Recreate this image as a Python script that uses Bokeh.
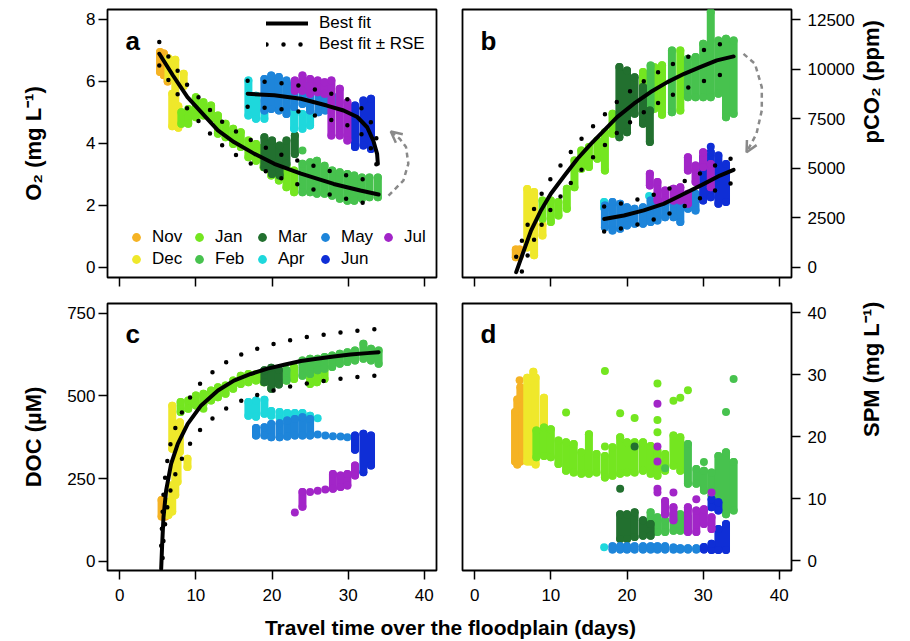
import math
from bokeh.plotting import figure
from bokeh.layouts import column, row
from bokeh.models import FixedTicker, Label, Legend, LegendItem, Arrow, OpenHead, Range1d
from bokeh.embed import file_html
from bokeh.resources import INLINE

FONT = "Liberation Sans"

MONTHS = ["Nov", "Dec", "Jan", "Feb", "Mar", "Apr", "May", "Jun", "Jul"]
COLORS = ["#F5B324", "#EFE82B", "#74E620", "#47C24E", "#22702F",
          "#1ED8DC", "#1E85DA", "#0F2ED6", "#A225C8"]

X_TICKS = [0, 10, 20, 30, 40]
O2_TICKS = [0, 2, 4, 6, 8]
CO2_TICKS = [0, 2500, 5000, 7500, 10000, 12500]
DOC_TICKS = [0, 250, 500, 750]
SPM_TICKS = [0, 10, 20, 30, 40]

X_LABEL = "Travel time over the floodplain (days)"
O2_LABEL = "O\u2082 (mg L\u207b\u00b9)"
CO2_LABEL = "pCO\u2082 (ppm)"
DOC_LABEL = "DOC (\u00b5M)"
SPM_LABEL = "SPM (mg L\u207b\u00b9)"

# ---- panel a: O2 (mg/L); columns are (travel time, low, high) ----
O2_NOV = [(5.3, 6.30, 6.95), (5.8, 6.20, 6.90), (6.3, 6.00, 6.70)]
O2_DEC = [(6.4, 6.10, 6.75), (6.9, 4.55, 5.60), (7.3, 5.30, 6.70), (7.7, 4.50, 5.20), (8.4, 5.85, 6.25)]
O2_JAN = [(8.1, 4.63, 5.00), (9.0, 4.63, 5.11), (10.0, 4.84, 5.49), (11.0, 4.90, 5.33),
          (12.0, 4.79, 5.22), (12.9, 4.31, 4.90), (13.9, 4.20, 4.63), (14.9, 3.98, 4.47),
          (15.9, 3.88, 4.36), (16.9, 3.55, 4.09), (17.9, 3.44, 3.98), (18.9, 3.23, 3.88),
          (19.9, 2.96, 3.66), (20.9, 2.80, 3.44), (21.9, 2.58, 3.28), (22.9, 2.42, 3.12)]
O2_FEB = [(24.0, 2.42, 3.34), (25.0, 2.42, 3.39), (25.9, 2.37, 3.44), (26.9, 2.37, 3.28),
          (27.9, 2.31, 3.12), (28.9, 2.21, 3.07), (29.9, 2.15, 3.01), (30.8, 2.15, 2.96),
          (31.8, 2.21, 2.90), (32.8, 2.26, 2.90), (33.9, 2.26, 2.90)]
O2_FEB_PTS = [(24.0, 3.77)]
O2_MAR = [(19.0, 3.23, 4.20), (20.0, 3.01, 4.09), (21.0, 2.96, 3.93), (21.9, 3.34, 4.09), (23.0, 3.66, 4.25)]
O2_APR = [(16.9, 4.90, 6.03), (17.9, 4.79, 5.54), (19.0, 4.79, 5.38), (22.9, 4.47, 5.06),
          (24.0, 4.47, 4.95), (25.0, 4.58, 5.17)]
O2_MAY = [(19.0, 5.06, 6.08), (19.9, 5.11, 6.19), (20.9, 5.06, 6.14), (21.9, 4.95, 6.03),
          (22.9, 5.17, 5.92), (24.0, 5.27, 5.92), (25.0, 5.06, 5.92), (26.1, 5.00, 5.87),
          (27.0, 5.06, 5.70), (28.8, 5.27, 5.54)]
O2_JUN = [(30.9, 3.88, 5.22), (32.0, 3.93, 5.38), (33.0, 3.82, 5.44)]
O2_JUL = [(23.0, 5.70, 6.03), (24.0, 5.70, 6.19), (25.0, 5.60, 6.08), (26.0, 5.65, 6.03),
          (26.9, 5.60, 5.97), (27.8, 4.25, 6.03), (28.9, 4.25, 5.76), (29.9, 4.09, 5.33)]
O2_FIT1_X = [5.2, 7.0, 8.9, 10.7, 12.9, 15.0, 17.7, 20.3, 23.8, 28.1, 31.6, 34.0]
O2_FIT1_Y = [6.89, 6.19, 5.49, 5.01, 4.42, 4.04, 3.66, 3.34, 3.02, 2.69, 2.48, 2.35]
O2_RSE1 = 0.38
O2_FIT2_X = [16.8, 20.3, 23.8, 27.2, 29.4, 31.2, 32.5, 33.3, 33.8, 33.9]
O2_FIT2_Y = [5.60, 5.55, 5.44, 5.22, 5.06, 4.85, 4.52, 4.09, 3.66, 3.34]
O2_RSE2 = 0.42
O2_ARC_X = [35.3, 37.25, 37.9, 37.6, 36.8, 35.6]
O2_ARC_Y = [2.31, 2.80, 3.34, 3.88, 4.14, 4.38]

# ---- panel b: pCO2 (ppm) ----
CO2_NOV = [(5.4, 500, 900), (5.9, 550, 900)]
CO2_DEC = [(6.9, 1000, 3950), (7.8, 600, 3800), (8.9, 1600, 2150)]
CO2_JAN = [(8.9, 2450, 3370), (10.0, 2280, 3370), (11.0, 2610, 3290), (12.1, 2950, 3960),
           (13.1, 4040, 5390), (14.0, 4970, 5900), (15.0, 5060, 6070), (16.1, 5480, 6400),
           (17.1, 4890, 6820), (18.1, 6740, 7750), (22.1, 8430, 9860), (23.6, 8000, 10100),
           (24.6, 7700, 10200), (27.0, 7920, 10950)]
CO2_FEB = [(23.1, 7920, 10190), (25.9, 7830, 10950), (28.0, 8590, 10530), (29.0, 8590, 10620),
           (30.0, 8590, 11290), (31.0, 8590, 12890), (32.0, 8760, 11460), (33.0, 7580, 11540),
           (34.0, 7750, 11460)]
CO2_MAR = [(19.0, 6570, 10110), (20.0, 6820, 9940), (21.0, 7750, 9600), (22.1, 7250, 9100), (23.0, 6320, 7920)]
CO2_APR = [(17.0, 3000, 3290), (18.0, 2950, 3120)]
CO2_APR_PTS = [(22.9, 3600)]
CO2_MAY = [(17.1, 2020, 3120), (18.1, 1850, 3290), (19.1, 1940, 3200), (20.0, 2110, 3030),
           (21.0, 2190, 2950), (22.1, 2190, 3030), (23.1, 2280, 3370), (24.0, 2360, 3290),
           (25.0, 2530, 3370), (26.1, 2530, 3200), (27.0, 2280, 3370), (28.0, 2950, 3540),
           (29.0, 2870, 3710)]
CO2_JUN = [(30.0, 3370, 5560), (31.0, 3540, 5810), (32.0, 3200, 5640), (33.0, 3290, 5220)]
CO2_JUN_PTS = [(31.0, 6080)]
CO2_JUL = [(23.0, 4130, 4720), (24.0, 3370, 4300), (25.0, 3370, 3880), (26.1, 3370, 3960),
           (27.0, 3370, 4040), (28.0, 4890, 5560), (28.0, 3200, 3710), (29.0, 4300, 5140),
           (30.0, 5060, 5810), (31.0, 4040, 5220)]
CO2_FIT1_X = [5.45, 6.3, 7.4, 8.7, 10.0, 11.8, 13.5, 15.3, 17.0, 18.7, 20.9, 23.1, 25.3, 27.5, 29.6, 31.8, 34.0]
CO2_FIT1_Y = [-250, 670, 1850, 2870, 3710, 4630, 5480, 6240, 6910, 7580, 8260, 8850, 9350, 9770, 10110, 10450, 10650]
CO2_RSE1 = 780
CO2_FIT2_X = [17.0, 19.6, 22.2, 24.8, 27.5, 30.1, 32.2, 34.0]
CO2_FIT2_Y = [2440, 2610, 2870, 3200, 3710, 4210, 4630, 4920]
CO2_RSE2 = 630
CO2_ARC_X = [35.3, 36.8, 37.7, 37.7, 37.0, 35.7]
CO2_ARC_Y = [10780, 10280, 9100, 7920, 6740, 5810]

# ---- panel c: DOC (uM) ----
DOC_NOV = [(5.5, 135, 185), (6.0, 135, 175)]
DOC_DEC = [(6.4, 140, 180), (6.9, 150, 230), (7.3, 200, 290), (7.6, 240, 340), (7.9, 330, 420),
           (6.9, 340, 470), (8.9, 285, 310)]
DOC_JAN = [(8.0, 451, 481), (9.0, 461, 486), (10.0, 471, 501), (11.0, 476, 506), (12.0, 486, 516),
           (12.9, 496, 526), (13.9, 506, 531), (14.9, 521, 546), (15.9, 536, 561), (16.9, 541, 566),
           (17.9, 546, 566), (18.9, 541, 571), (21.9, 546, 577), (22.9, 551, 586), (25.0, 536, 597),
           (25.9, 541, 602), (26.9, 551, 602)]
DOC_JAN_PTS = [(11.0, 461)]
DOC_FEB = [(21.9, 546, 577), (24.0, 561, 607), (25.0, 566, 612), (26.0, 577, 612), (26.9, 582, 617),
           (27.9, 587, 622), (28.9, 597, 627), (29.9, 602, 632), (30.9, 607, 637), (32.0, 612, 657),
           (33.0, 607, 642), (34.0, 597, 637)]
DOC_MAR = [(19.0, 541, 577), (19.9, 521, 585), (20.9, 534, 579)]
DOC_APR = [(16.9, 440, 481), (17.9, 437, 486), (19.0, 446, 488), (19.9, 440, 454), (21.0, 435, 451),
           (22.0, 430, 448), (23.0, 430, 448), (24.0, 430, 448), (25.0, 423, 440)]
DOC_APR_PTS = [(26.0, 432)]
DOC_MAY = [(17.9, 380, 403), (19.0, 380, 405), (19.9, 375, 415), (21.0, 375, 417), (22.0, 377, 425),
           (23.0, 380, 430), (24.0, 380, 435), (25.0, 380, 430)]
DOC_MAY_PTS = [(26.0, 383), (27.0, 380), (28.0, 378), (29.0, 377), (29.9, 375)]
DOC_JUN = [(30.9, 337, 380), (32.0, 269, 385), (33.0, 289, 380)]
DOC_JUL = [(24.0, 165, 209), (28.0, 219, 264), (29.0, 224, 259), (29.9, 229, 264), (30.9, 259, 289)]
DOC_JUL_PTS = [(23.0, 147), (25.0, 209), (26.0, 213), (27.0, 217)]
DOC_FIT_X = [5.45, 5.58, 5.75, 6.1, 6.75, 7.63, 8.93, 10.7, 12.9, 15.0, 17.2, 19.4, 21.6, 23.8,
             25.9, 28.1, 30.3, 32.5, 34.0]
DOC_FIT_Y = [-23, 52, 133, 214, 294, 355, 415, 471, 516, 546, 566, 582, 594, 605, 612, 619, 625, 629, 632]
DOC_RSE = 70

# ---- panel d: SPM (mg/L) ----
SPM_NOV = [(5.3, 16.0, 24.0), (5.6, 15.5, 26.0), (6.0, 16.0, 28.0), (6.3, 17.0, 25.0)]
SPM_NOV_PTS = [(5.9, 29.1)]
SPM_DEC = [(6.9, 16.0, 29.5), (7.3, 16.0, 29.0), (7.7, 16.0, 30.5), (8.0, 15.5, 29.5), (9.1, 21.5, 26.3)]
SPM_JAN = [(8.1, 16.7, 21.0), (9.1, 16.9, 21.5), (10.0, 16.7, 21.2), (11.0, 15.6, 19.4), (12.0, 14.5, 19.1),
           (13.0, 14.2, 18.8), (14.0, 14.0, 17.5), (15.0, 14.0, 20.4), (16.0, 14.2, 17.2), (17.1, 13.4, 16.9),
           (18.1, 13.7, 18.3), (19.1, 14.0, 19.9), (20.0, 14.2, 19.1), (21.0, 14.2, 19.1), (22.1, 14.5, 19.1),
           (23.1, 14.0, 18.5), (24.0, 13.7, 17.7), (25.0, 14.5, 17.2), (26.1, 15.3, 20.2), (27.0, 14.5, 19.9)]
SPM_JAN_PTS = [(12.0, 23.9), (17.1, 30.6), (17.1, 18.4), (19.1, 23.8), (21.0, 23.0), (24.0, 28.6),
               (24.0, 22.7), (24.0, 20.7), (26.1, 25.8), (27.0, 26.3), (28.0, 27.5)]
SPM_FEB = [(28.0, 12.4, 18.8), (29.1, 12.4, 14.8), (30.1, 11.3, 14.5), (31.1, 10.5, 14.2), (32.0, 8.6, 16.9),
           (33.0, 7.5, 17.5), (34.0, 8.1, 15.9), (23.1, 4.3, 7.8), (24.0, 4.6, 7.0), (25.0, 4.6, 6.5),
           (26.1, 4.8, 7.5), (27.0, 4.8, 7.5), (28.0, 4.8, 7.0)]
SPM_FEB_PTS = [(30.1, 15.9), (33.0, 24.0), (34.0, 29.3), (25.0, 14.9)]
SPM_MAR = [(19.1, 3.5, 7.5), (20.0, 3.5, 7.5), (21.0, 3.8, 7.8), (22.1, 4.0, 6.5), (23.1, 4.0, 5.9)]
SPM_MAR_PTS = [(19.1, 11.6), (21.0, 18.4)]
SPM_APR_PTS = [(17.0, 2.15)]
SPM_MAY = [(18.1, 1.8, 2.3), (19.1, 1.8, 2.3), (20.0, 1.8, 2.3), (21.0, 1.8, 2.3), (22.1, 1.8, 2.3),
           (23.1, 1.8, 2.3), (24.0, 1.8, 2.3), (25.0, 1.8, 2.3), (26.1, 1.8, 2.1), (27.0, 1.8, 2.0),
           (28.0, 1.8, 2.0), (29.1, 1.8, 2.0)]
SPM_JUN = [(30.1, 1.8, 2.2), (31.1, 1.7, 2.7), (31.1, 8.6, 9.9), (32.0, 1.7, 5.1), (32.0, 8.1, 9.4),
           (33.0, 1.7, 5.9)]
SPM_JUL = [(25.0, 7.5, 9.6), (26.1, 6.5, 8.6), (28.0, 4.6, 8.6), (29.1, 4.6, 8.1), (30.1, 5.9, 8.3),
           (31.1, 5.1, 7.0)]
SPM_JUL_PTS = [(24.0, 25.3), (24.0, 18.4), (24.0, 16.0), (24.0, 11.6), (24.0, 11.0), (26.1, 11.0),
               (29.1, 9.9), (31.1, 11.0)]

O2_COLS = [O2_NOV, O2_DEC, O2_JAN, O2_FEB, O2_MAR, O2_APR, O2_MAY, O2_JUN, O2_JUL]
O2_PTS = {"Feb": O2_FEB_PTS}
CO2_COLS = [CO2_NOV, CO2_DEC, CO2_JAN, CO2_FEB, CO2_MAR, CO2_APR, CO2_MAY, CO2_JUN, CO2_JUL]
CO2_PTS = {"Apr": CO2_APR_PTS, "Jun": CO2_JUN_PTS}
DOC_COLS = [DOC_NOV, DOC_DEC, DOC_JAN, DOC_FEB, DOC_MAR, DOC_APR, DOC_MAY, DOC_JUN, DOC_JUL]
DOC_PTS = {"Jan": DOC_JAN_PTS, "Apr": DOC_APR_PTS, "May": DOC_MAY_PTS, "Jul": DOC_JUL_PTS}
SPM_COLS = [SPM_NOV, SPM_DEC, SPM_JAN, SPM_FEB, SPM_MAR, [], SPM_MAY, SPM_JUN, SPM_JUL]
SPM_PTS = {"Nov": SPM_NOV_PTS, "Jan": SPM_JAN_PTS, "Feb": SPM_FEB_PTS, "Mar": SPM_MAR_PTS,
           "Apr": SPM_APR_PTS, "Jul": SPM_JUL_PTS}

MARK = 8
GRAY = "#8a8a8a"


def make_panel(width, height, borders, y_range, y_ticks, y_side, x_labels, y_label, y_label_standoff,
               y_label_std):
    left, right, top, bottom = borders
    p = figure(width=width, height=height, x_range=Range1d(-1.6, 41.6), y_range=Range1d(*y_range),
               output_backend="svg", toolbar_location=None, y_axis_location=y_side,
               min_border_left=left, min_border_right=right, min_border_top=top, min_border_bottom=bottom)
    p.grid.visible = False
    p.outline_line_color = "black"
    p.outline_line_width = 1.8
    p.outline_line_alpha = 1.0
    p.background_fill_color = "white"
    p.border_fill_color = "white"
    for ax in p.axis:
        ax.axis_line_color = None
        ax.major_tick_line_color = "black"
        ax.major_tick_line_width = 1.5
        ax.major_tick_in = 0
        ax.major_tick_out = 9
        ax.minor_tick_line_color = None
        ax.major_label_text_font = FONT
        ax.major_label_text_font_size = "17px"
        ax.major_label_text_color = "black"
    p.xaxis.ticker = FixedTicker(ticks=X_TICKS)
    p.yaxis.ticker = FixedTicker(ticks=y_ticks)
    if x_labels:
        p.xaxis.major_label_standoff = 9
    else:
        p.xaxis.major_label_text_font_size = "0px"
        p.xaxis.major_label_text_color = None
        p.xaxis.major_label_standoff = 0
    p.yaxis.major_label_standoff = y_label_std
    p.yaxis.axis_label = y_label
    p.yaxis.axis_label_text_font = FONT
    p.yaxis.axis_label_text_font_style = "bold"
    p.yaxis.axis_label_text_font_size = "22px"
    p.yaxis.axis_label_text_color = "black"
    p.yaxis.axis_label_standoff = y_label_standoff
    if y_side == "right":
        try:
            p.yaxis.axis_label_orientation = math.pi / 2
        except Exception:
            pass
    return p


def draw_months(p, cols_list, pts_map):
    renderers = []
    for m, c, cols in zip(MONTHS, COLORS, cols_list):
        xs = [t[0] for t in cols]
        lo = [t[1] for t in cols]
        hi = [t[2] for t in cols]
        if cols:
            p.segment(x0=xs, y0=lo, x1=xs, y1=hi, line_color=c, line_width=MARK, line_cap="round")
        pts = pts_map.get(m, [])
        px = xs + xs + [t[0] for t in pts]
        py = lo + hi + [t[1] for t in pts]
        r = p.scatter(x=px, y=py, size=MARK, marker="circle", fill_color=c, line_color=None)
        renderers.append(r)
    return renderers


def draw_fit(p, xs, ys, rse):
    upper = [v + rse for v in ys]
    lower = [v - rse for v in ys]
    r_up = p.line(xs, upper, line_color="black", line_width=4.5, line_dash="0 17", line_cap="round")
    p.line(xs, lower, line_color="black", line_width=4.5, line_dash="0 17", line_cap="round")
    r_fit = p.line(xs, ys, line_color="black", line_width=4, line_cap="round", line_join="round")
    return r_fit, r_up


def draw_arc(p, xs, ys):
    p.line(xs, ys, line_color=GRAY, line_width=2.5, line_dash="5 4")
    p.add_layout(Arrow(x_start=xs[-2], y_start=ys[-2], x_end=xs[-1], y_end=ys[-1], line_alpha=0,
                       end=OpenHead(size=11, line_color=GRAY, line_width=2.5)))


def panel_letter(p, letter):
    p.add_layout(Label(x=18, y=237, x_units="screen", y_units="screen", text=letter, text_font=FONT,
                       text_font_style="bold", text_font_size="26px", text_color="black",
                       text_baseline="alphabetic", text_align="left"))


# panel a
fa = make_panel(449, 290, (107, 13, 9, 13), (-0.33, 8.32), O2_TICKS, "left", False, O2_LABEL, 37, 3)
month_rs = draw_months(fa, O2_COLS, O2_PTS)
fit_r, rse_r = draw_fit(fa, O2_FIT1_X, O2_FIT1_Y, O2_RSE1)
draw_fit(fa, O2_FIT2_X, O2_FIT2_Y, O2_RSE2)
draw_arc(fa, O2_ARC_X, O2_ARC_Y)
panel_letter(fa, "a")
leg_fit = Legend(items=[LegendItem(label="Best fit", renderers=[fit_r]),
                        LegendItem(label="Best fit \u00b1 RSE", renderers=[rse_r])],
                 location=(159, 223), glyph_width=42, glyph_height=20, spacing=1, label_standoff=11,
                 padding=0, margin=0, border_line_color=None, background_fill_alpha=0,
                 label_text_font=FONT, label_text_font_size="17px", label_text_color="black")
fa.add_layout(leg_fit, "center")
leg_m = Legend(items=[LegendItem(label=m, renderers=[r]) for m, r in zip(MONTHS, month_rs)],
               location=(16, 7), orientation="vertical", nrows=2, glyph_width=26, glyph_height=22,
               spacing=0, label_standoff=3, label_width=34, label_height=20, padding=0, margin=0,
               border_line_color=None, background_fill_alpha=0,
               label_text_font=FONT, label_text_font_size="17px", label_text_color="black")
fa.add_layout(leg_m, "center")

# panel b
fb = make_panel(453, 290, (13, 111, 9, 13), (-520, 13020), CO2_TICKS, "right", False, CO2_LABEL, 14, 7)
draw_months(fb, CO2_COLS, CO2_PTS)
draw_fit(fb, CO2_FIT1_X, CO2_FIT1_Y, CO2_RSE1)
draw_fit(fb, CO2_FIT2_X, CO2_FIT2_Y, CO2_RSE2)
draw_arc(fb, CO2_ARC_X, CO2_ARC_Y)
panel_letter(fb, "b")

# panel c
fc = make_panel(449, 318, (107, 13, 13, 38), (-28, 779), DOC_TICKS, "left", True, DOC_LABEL, 18, 3)
draw_months(fc, DOC_COLS, DOC_PTS)
draw_fit(fc, DOC_FIT_X, DOC_FIT_Y, DOC_RSE)
panel_letter(fc, "c")

# panel d
fd = make_panel(453, 318, (13, 111, 13, 38), (-1.6, 41.5), SPM_TICKS, "right", True, SPM_LABEL, 42, 7)
draw_months(fd, SPM_COLS, SPM_PTS)
panel_letter(fd, "d")

# shared x-axis title
fx = figure(width=902, height=33, x_range=Range1d(0, 902), y_range=Range1d(0, 33),
            output_backend="svg", toolbar_location=None, x_axis_location=None, y_axis_location=None,
            min_border_left=0, min_border_right=0, min_border_top=0, min_border_bottom=0)
fx.grid.visible = False
fx.outline_line_color = None
fx.add_layout(Label(x=450, y=14, text=X_LABEL, text_font=FONT, text_font_style="bold",
                    text_font_size="21px", text_color="black", text_align="center",
                    text_baseline="alphabetic"))

layout = column(row(fa, fb), row(fc, fd), fx)
open("out.html", "w").write(file_html(layout, INLINE))
